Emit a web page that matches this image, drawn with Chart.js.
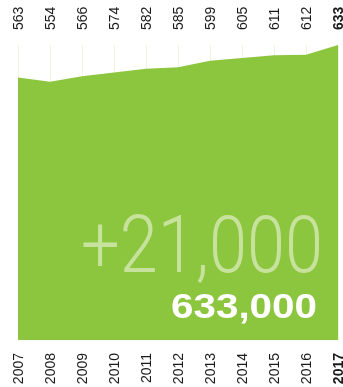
<!DOCTYPE html>
<html>
<head>
<meta charset="utf-8">
<script src="https://cdn.jsdelivr.net/npm/chart.js@4"></script>
<style>
  body { margin: 0; background: #fff; }
  canvas { display: block; }
</style>
</head>
<body>
<canvas id="graficoArea" width="343" height="387"></canvas>
<script>
const anos = ["2007", "2008", "2009", "2010", "2011", "2012", "2013", "2014", "2015", "2016", "2017"];
const valores = [563, 554, 566, 574, 582, 585, 599, 605, 611, 612, 633];
const rotulosTopo = ["563", "554", "566", "574", "582", "585", "599", "605", "611", "612", "633"];
const textoVariacao = "+21,000";
const textoTotal = "633,000";

const verde = "#8cc63f";
const fonte = "'Liberation Sans', Arial, sans-serif";

function semPadding(escala, altura) {
    escala.height = altura;
    escala.paddingLeft = 0;
    escala.paddingRight = 0;
}

// rotulos verticais desenhados na posicao de cada tick da escala
const rotulosVerticais = {
    id: "rotulosVerticais",
    afterDraw(chart) {
        const ctx = chart.ctx;
        const area = chart.chartArea;
        const escala = chart.scales.x;
        ctx.save();
        ctx.fillStyle = "#1a1a1a";
        ctx.textBaseline = "middle";
        anos.forEach((ano, i) => {
            const x = escala.getPixelForTick(i) + 1;
            const negrito = i === anos.length - 1 ? "bold " : "";
            ctx.font = negrito + "14px " + fonte;

            ctx.save();
            ctx.translate(x, area.bottom + 13);
            ctx.rotate(-Math.PI / 2);
            ctx.textAlign = "right";
            ctx.fillText(ano, 0, 0);
            ctx.restore();

            ctx.save();
            ctx.translate(x, area.top - 15);
            ctx.rotate(-Math.PI / 2);
            ctx.textAlign = "left";
            ctx.fillText(rotulosTopo[i], 0, 0);
            ctx.restore();
        });
        ctx.restore();
    },
};

// textos grandes por cima do grafico
const textosGrandes = {
    id: "textosGrandes",
    afterDraw(chart) {
        const ctx = chart.ctx;
        ctx.save();
        ctx.textAlign = "left";
        ctx.textBaseline = "alphabetic";

        ctx.font = "300 80px Roboto, " + fonte;
        let largura = ctx.measureText(textoVariacao).width;
        ctx.save();
        ctx.translate(81, 272);
        ctx.scale(242 / largura, 1);
        ctx.fillStyle = "#c6e29c";
        ctx.fillText(textoVariacao, 0, 0);
        ctx.restore();

        ctx.font = "bold 35px " + fonte;
        largura = ctx.measureText(textoTotal).width;
        ctx.save();
        ctx.translate(171, 318);
        ctx.scale(146 / largura, 1);
        ctx.fillStyle = "#ffffff";
        ctx.fillText(textoTotal, 0, 0);
        ctx.restore();

        ctx.restore();
    },
};

const canvasGrafico = document.getElementById("graficoArea");
const grafico = new Chart(canvasGrafico, {
    type: "line",
    data: {
        labels: anos,
        datasets: [
            {
                data: valores,
                fill: "origin",
                backgroundColor: verde,
                borderWidth: 0,
                pointRadius: 0,
                tension: 0,
            },
        ],
    },
    options: {
        responsive: false,
        animation: false,
        layout: { padding: { left: 18, right: 5, top: 0, bottom: 0 } },
        plugins: { legend: { display: false }, tooltip: { enabled: false } },
        scales: {
            x: {
                position: "bottom",
                offset: false,
                z: 1,
                border: { display: false },
                grid: { color: "rgba(220,230,180,0.45)", lineWidth: 1, drawTicks: false },
                ticks: { autoSkip: false, display: false },
                afterFit(escala) { semPadding(escala, 47); },
            },
            xTopo: {
                type: "category",
                position: "top",
                labels: rotulosTopo,
                offset: false,
                border: { display: false },
                grid: { display: false, drawTicks: false },
                ticks: { autoSkip: false, display: false },
                afterFit(escala) { semPadding(escala, 45); },
            },
            y: {
                display: false,
                min: 0,
                max: 633,
            },
        },
    },
    plugins: [rotulosVerticais, textosGrandes],
});
</script>
</body>
</html>
